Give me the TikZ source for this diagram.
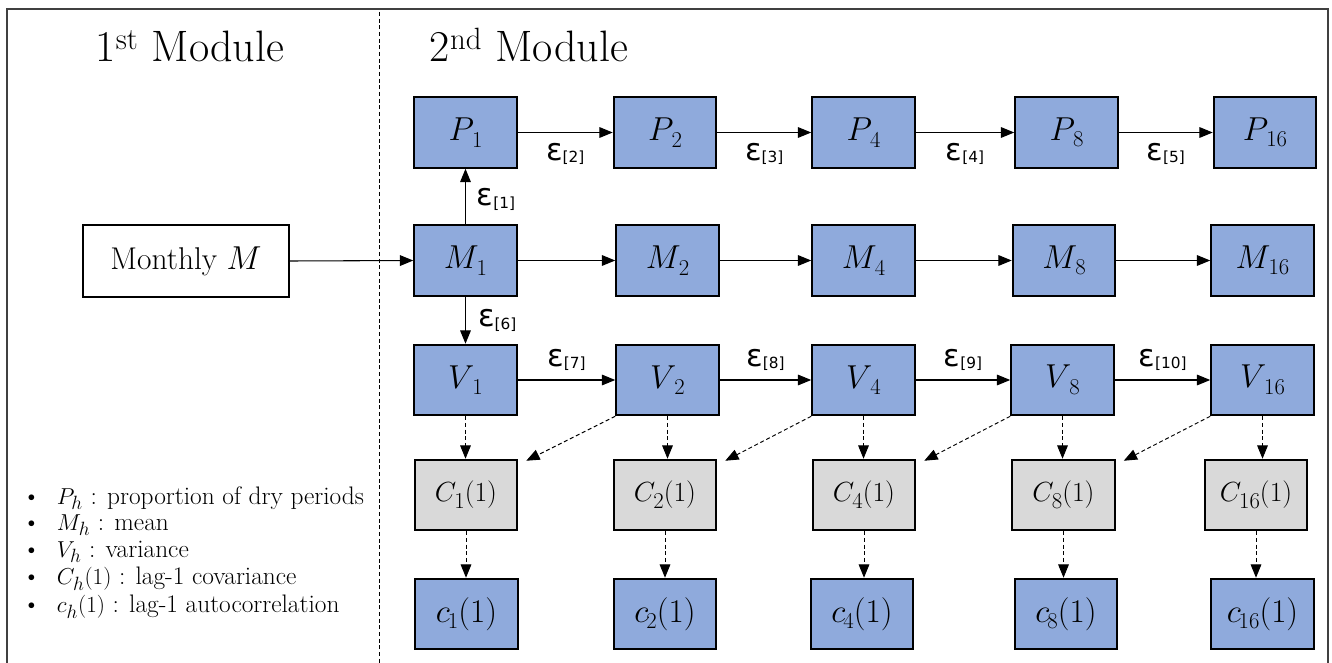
\documentclass[tikz,border=0pt]{standalone}
\usepackage{fontspec}
\newfontfamily\epsfont{DejaVu Sans}
\usetikzlibrary{arrows.meta}
\definecolor{boxblue}{HTML}{8FAADC}
\definecolor{boxgrey}{HTML}{D9D9D9}
\definecolor{framegrey}{HTML}{404040}
\newcommand{\epslab}[1]{{\epsfont\fontsize{23}{23}\selectfont ε\raisebox{-2pt}{\fontsize{11.5}{11.5}\selectfont[#1]}}}
\newcommand{\subsc}[1]{\kern-1.5pt\raisebox{-5pt}{\fontsize{17}{17}\selectfont #1}}
\begin{document}
\begin{tikzpicture}[x=0.75pt,y=-0.75pt,
  box/.style={draw=black,line width=1.4pt,minimum width=77pt,minimum height=53pt,inner sep=0pt,font=\fontsize{24}{24}\selectfont},
  bluebox/.style={box,fill=boxblue},
  greybox/.style={box,fill=boxgrey,font=\fontsize{22}{22}\selectfont},
  conn/.style={line width=0.8pt,-{Triangle[length=10pt,width=8pt]}},
  dconn/.style={conn,line width=0.7pt,dash pattern=on 3pt off 2pt},
  lab/.style={inner sep=0pt},
  legend/.style={anchor=west,inner sep=0pt,font=\fontsize{19}{19}\selectfont},
  title/.style={anchor=base,inner sep=0pt,font=\fontsize{33}{33}\selectfont}
]
\useasboundingbox (0,0) rectangle (1332,663);
\draw[framegrey,line width=1.5pt] (7,663) -- (7,9) -- (1328,9) -- (1328,663);
\draw[line width=0.6pt,dash pattern=on 3pt off 2pt] (379,12) -- (379,663);

\node[title] (t1) at (190,62) {1\textsuperscript{st} Module};
\node[title] (t2) at (529,62) {2\textsuperscript{nd} Module};

\node[box,fill=white,minimum width=154.5pt,minimum height=54pt,font=\fontsize{23.6}{23.6}\selectfont] (mon) at (186,261) {Monthly $M$};

\foreach \n/\x in {1/465.5,2/665,4/863.5,8/1066.5,16/1265}
  \node[bluebox] (P\n) at (\x,132.5) {$P$\subsc{\n}};
\foreach \n/\x in {1/465.5,2/667.5,4/863.5,8/1064,16/1262.5}
  \node[bluebox] (M\n) at (\x,260.5) {$M$\subsc{\n}};
\foreach \n/\x in {1/465.5,2/667.5,4/863.5,8/1062.5,16/1262.5}
  \node[bluebox] (V\n) at (\x,380) {$V$\subsc{\n}};
\foreach \n/\x in {1/466,2/665,4/864,8/1063.5,16/1256}
  \node[greybox] (C\n) at (\x,495) {$C$\subsc{\n}$(1)$};
\foreach \n/\x in {1/466.5,2/665,4/862,8/1066,16/1262.5}
  \node[bluebox] (c\n) at (\x,614) {$c$\subsc{\n}$(1)$};

% P row
\draw[conn] (P1.east) -- node[lab,midway,yshift=-16pt] {\epslab{2}} (P2.west);
\draw[conn] (P2.east) -- node[lab,midway,yshift=-16pt] {\epslab{3}} (P4.west);
\draw[conn] (P4.east) -- node[lab,midway,yshift=-16pt] {\epslab{4}} (P8.west);
\draw[conn] (P8.east) -- node[lab,midway,yshift=-16pt] {\epslab{5}} (P16.west);
% M row
\draw[conn] (mon.east) -- (M1.west);
\draw[conn] (M1.east) -- (M2.west);
\draw[conn] (M2.east) -- (M4.west);
\draw[conn] (M4.east) -- (M8.west);
\draw[conn] (M8.east) -- (M16.west);
\draw[conn] (M1.north) -- node[lab,midway,anchor=west,xshift=8pt,yshift=-2pt] {\epslab{1}} (P1.south);
\draw[conn] (M1.south) -- node[lab,midway,anchor=west,xshift=9pt] {\epslab{6}} (V1.north);
% V row
\draw[conn] (V1.east) -- node[lab,midway,yshift=15pt] {\epslab{7}} (V2.west);
\draw[conn] (V2.east) -- node[lab,midway,yshift=15pt] {\epslab{8}} (V4.west);
\draw[conn] (V4.east) -- node[lab,midway,yshift=15pt] {\epslab{9}} (V8.west);
\draw[conn] (V8.east) -- node[lab,midway,yshift=15pt] {\epslab{10}} (V16.west);
% dashed
\foreach \n in {1,2,4,8,16}{
  \draw[dconn] (V\n.south) -- (V\n.south |- C\n.north);
  \draw[dconn] (C\n.south) -- (C\n.south |- c\n.north);
}
\draw[dconn] (V2.south west) -- ([xshift=6pt,yshift=-1.5pt]C1.north east);
\draw[dconn] (V4.south west) -- ([xshift=6pt,yshift=-1.5pt]C2.north east);
\draw[dconn] (V8.south west) -- ([xshift=6pt,yshift=-1.5pt]C4.north east);
\draw[dconn] (V16.south west) -- ([xshift=6pt,yshift=-1.5pt]C8.north east);

% legend
\node[legend] (l1) at (22,498) {\makebox[26pt][l]{\textbullet}$P_h$ : proportion of dry periods};
\node[legend] (l2) at (22,525) {\makebox[26pt][l]{\textbullet}$M_h$ : mean};
\node[legend] (l3) at (22,552) {\makebox[26pt][l]{\textbullet}$V_h$ : variance};
\node[legend] (l4) at (22,579) {\makebox[26pt][l]{\textbullet}$C_h(1)$ : lag-1 covariance};
\node[legend] (l5) at (22,607) {\makebox[26pt][l]{\textbullet}$c_h(1)$ : lag-1 autocorrelation};
\end{tikzpicture}
\end{document}
